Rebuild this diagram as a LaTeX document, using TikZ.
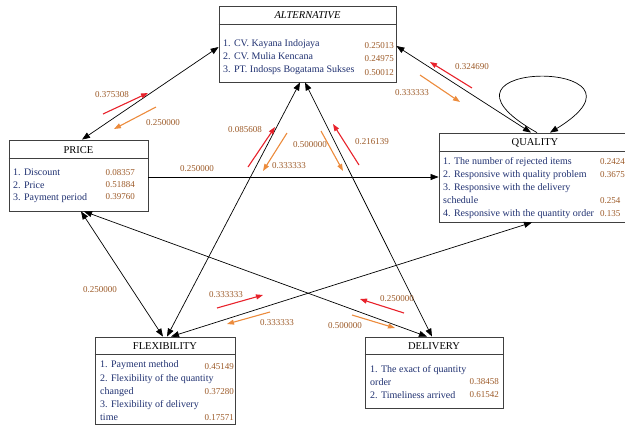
\documentclass[tikz,border=0pt]{standalone}
\usepackage{fontspec}
\setmainfont{Liberation Serif}
\usetikzlibrary{arrows.meta}
\definecolor{itemblue}{HTML}{1F3070}
\definecolor{valbrown}{HTML}{9C5A28}
\definecolor{redarr}{HTML}{E8222B}
\definecolor{orarr}{HTML}{EC8B3C}
\definecolor{boxline}{HTML}{404040}
\begin{document}
\begin{tikzpicture}[x=1pt,y=-1pt,
  box/.style={draw=boxline,line width=0.8pt,inner sep=0pt},
  sepline/.style={draw=boxline,line width=0.8pt},
  head/.style={inner sep=0pt,font=\fontsize{10.5}{12}\selectfont},
  item/.style={anchor=base west,inner sep=0pt,text=itemblue,font=\fontsize{10}{12}\selectfont},
  valr/.style={anchor=base east,inner sep=0pt,text=valbrown,font=\fontsize{9}{11}\selectfont},
  vall/.style={anchor=base west,inner sep=0pt,text=valbrown,font=\fontsize{9}{11}\selectfont},
  lab/.style={inner sep=0pt,text=valbrown,font=\fontsize{9}{11}\selectfont},
  edge/.style={draw=black,line width=0.7pt},
  both/.style={edge,{Triangle[length=8pt,width=6pt]}-{Triangle[length=8pt,width=6pt]}},
  one/.style={edge,-{Triangle[length=8pt,width=6pt]}},
  redflow/.style={draw=redarr,line width=1.1pt,-{Triangle[length=7pt,width=5pt]}},
  orflow/.style={draw=orarr,line width=1.1pt,-{Triangle[length=7pt,width=5pt]}}]
\useasboundingbox (0,0) rectangle (625,426);
\clip (0,0) rectangle (625,426);

% boxes
\node[box,minimum width=177pt,minimum height=76pt] (alt) at (307.5,44) {};
\node[box,minimum width=139pt,minimum height=71pt] (price) at (78.5,175.5) {};
\node[box,minimum width=192pt,minimum height=89pt] (quality) at (535,177.5) {};
\node[box,minimum width=140pt,minimum height=87pt] (flex) at (165,380.5) {};
\node[box,minimum width=138pt,minimum height=71pt] (deliv) at (434,372.5) {};

% header separators
\draw[sepline] (alt.west |- 0,24) -- (alt.east |- 0,24);
\draw[sepline] (price.west |- 0,158) -- (price.east |- 0,158);
\draw[sepline] (quality.west |- 0,151) -- (quality.east |- 0,151);
\draw[sepline] (flex.west |- 0,354) -- (flex.east |- 0,354);
\draw[sepline] (deliv.west |- 0,354) -- (deliv.east |- 0,354);

% ALTERNATIVE
\node[head,font=\fontsize{10.5}{12}\selectfont\itshape] (altH) at (307.5,15.5) {ALTERNATIVE};
\node[item] (alt1) at (223,46) {1. CV. Kayana Indojaya};
\node[item] (alt2) at (223,59) {2. CV. Mulia Kencana};
\node[item] (alt3) at (223,72) {3. PT. Indosps Bogatama Sukses};
\node[valr] (altv1) at (394,48) {0.25013};
\node[valr] (altv2) at (394,61.5) {0.24975};
\node[valr] (altv3) at (394,75) {0.50012};

% PRICE
\node[head] (priceH) at (78.5,150) {PRICE};
\node[item] (pr1) at (13,175.5) {1. Discount};
\node[item] (pr2) at (13,188) {2. Price};
\node[item] (pr3) at (13,200.5) {3. Payment period};
\node[valr] (prv1) at (135,175.5) {0.08357};
\node[valr] (prv2) at (135,187.5) {0.51884};
\node[valr] (prv3) at (135,199.5) {0.39760};

% QUALITY
\node[head] (qualH) at (535,142.5) {QUALITY};
\node[item] (q1) at (443,164.5) {1. The number of rejected items};
\node[item] (q2) at (443,177.5) {2. Responsive with quality problem};
\node[item] (q3) at (443,190.5) {3. Responsive with the delivery};
\node[item] (q3b) at (443,203.5) {schedule};
\node[item] (q4) at (443,216.5) {4. Responsive with the quantity order};
\node[vall] (qv1) at (600,164.5) {0.2424};
\node[vall] (qv2) at (600,177.5) {0.3675};
\node[vall] (qv3) at (600,203.5) {0.254};
\node[vall] (qv4) at (600,216.5) {0.135};

% FLEXIBILITY
\node[head] (flexH) at (165,346) {FLEXIBILITY};
\node[item] (f1) at (100,367.5) {1. Payment method};
\node[item] (f2) at (100,381.5) {2. Flexibility of the quantity};
\node[item] (f2b) at (100,394.5) {changed};
\node[item] (f3) at (100,407.5) {3. Flexibility of delivery};
\node[item] (f3b) at (100,420.5) {time};
\node[valr] (fv1) at (234,369.5) {0.45149};
\node[valr] (fv2) at (234,394.5) {0.37280};
\node[valr] (fv3) at (234,420.5) {0.17571};

% DELIVERY
\node[head] (delH) at (434,346) {DELIVERY};
\node[item] (d1) at (370,372.5) {1. The exact of quantity};
\node[item] (d1b) at (370,385.5) {order};
\node[item] (d2) at (370,398.5) {2. Timeliness arrived};
\node[valr] (dv1) at (499,384.5) {0.38458};
\node[valr] (dv2) at (499,397.5) {0.61542};

% connectors
\draw[both] ([xshift=3.5pt]price.north) -- ([yshift=-3pt]alt.west);
\draw[both] ([yshift=-2pt]alt.east) -- ([xshift=-4pt]quality.north);
\draw[one] ([xshift=2pt]quality.north) .. controls (405,58) and (672,58) .. ([xshift=15pt]quality.north);
\draw[one] (price.east |- 0,177) -- (quality.west |- 0,177);
\draw[both] ([xshift=-7.5pt]alt.south) -- ([xshift=2pt]flex.north);
\draw[both] ([xshift=-2.5pt]alt.south) -- ([xshift=-2pt]deliv.north);
\draw[both] ([xshift=2.5pt]price.south) -- ([xshift=-2pt]flex.north);
\draw[both] ([xshift=5.5pt]price.south) -- ([xshift=-7pt]deliv.north);
\draw[both] ([xshift=6pt]flex.north) -- ([xshift=-3pt]quality.south);

% flow arrows
\draw[redflow] (103,114) -- (148,93);
\draw[orflow] (156,107) -- (114,129);
\draw[redflow] (472,88) -- (430,62);
\draw[orflow] (420,75) -- (460,102);
\draw[redflow] (248,167) -- (275,127);
\draw[orflow] (287,133) -- (263,171);
\draw[orflow] (321,131) -- (343,171);
\draw[redflow] (359,165) -- (333,124);
\draw[redflow] (404,313) -- (360,299);
\draw[orflow] (352,315) -- (395,328);
\draw[redflow] (217,308) -- (263,295);
\draw[orflow] (270,312) -- (227,324);

% edge labels
\node[lab] (l1) at (112,95) {0.375308};
\node[lab] (l2) at (163,123) {0.250000};
\node[lab] (l3) at (472,67) {0.324690};
\node[lab] (l4) at (412,93) {0.333333};
\node[lab] (l5) at (197,169) {0.250000};
\node[lab] (l6) at (245,130) {0.085608};
\node[lab] (l7) at (289,166) {0.333333};
\node[lab] (l8) at (310,145) {0.500000};
\node[lab] (l9) at (372,142) {0.216139};
\node[lab] (l10) at (100,290) {0.250000};
\node[lab] (l11) at (226,295) {0.333333};
\node[lab] (l12) at (277,323) {0.333333};
\node[lab] (l13) at (397,299) {0.250000};
\node[lab] (l14) at (345,326) {0.500000};
\end{tikzpicture}
\end{document}
